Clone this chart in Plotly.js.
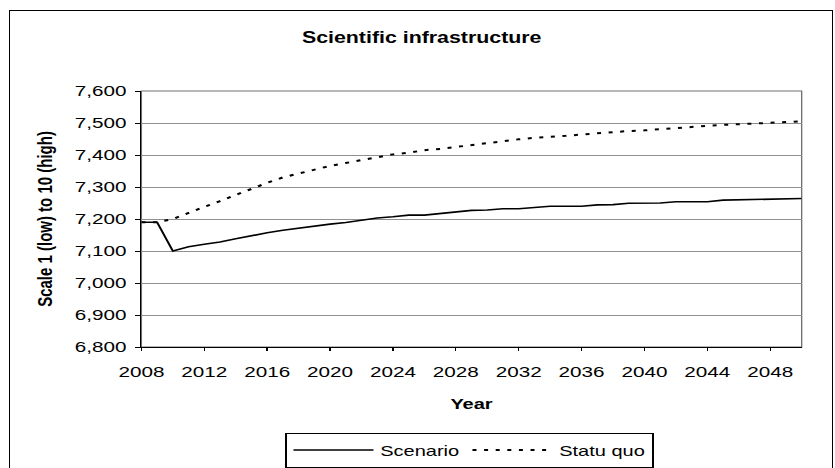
<!DOCTYPE html>
<html>
<head>
<meta charset="utf-8">
<script src="https://cdn.plot.ly/plotly-3.0.1.min.js"></script>
<style>
  html, body { margin: 0; padding: 0; background: #ffffff; overflow: hidden; }
  #wrap { position: relative; width: 835px; height: 468px; overflow: hidden; background: #fff; }
  #chart { position: absolute; left: 0; top: 0; width: 626px; height: 468px; transform: scaleX(1.3339); transform-origin: 0 0; }
  #frame { position: absolute; left: 9px; top: 10px; width: 822px; height: 480px; border: 1px solid #000; pointer-events: none; }
</style>
</head>
<body>
<div id="wrap">
  <div id="chart"></div>
  <div id="frame"></div>
</div>
<script>
const years = [2008,2009,2010,2011,2012,2013,2014,2015,2016,2017,2018,2019,2020,2021,2022,2023,2024,2025,2026,2027,2028,2029,2030,2031,2032,2033,2034,2035,2036,2037,2038,2039,2040,2041,2042,2043,2044,2045,2046,2047,2048,2049,2050];
const scenario = [7190,7190,7100,7113,7121,7128,7138,7148,7157,7165,7172,7179,7184,7189,7197,7203,7207,7212,7212,7217,7222,7227,7228,7232,7232,7236,7240,7240,7240,7244,7245,7249,7249,7250,7254,7254,7254,7259,7260,7260,7263,7264,7264];
const statuQuo = [7190,7190,7200,7220,7238,7256,7275,7295,7313,7330,7342,7355,7366,7375,7384,7394,7402,7407,7415,7419,7425,7431,7439,7445,7449,7454,7456,7460,7464,7468,7472,7475,7477,7481,7484,7487,7491,7494,7496,7500,7502,7503,7505];
const seriesNames = ["Scenario", "Statu quo"];
const chartTitle = "Scientific infrastructure";
const xTitle = "Year";
const yTitle = "Scale 1 (low) to 10 (high)";

const FONT = "Liberation Sans, Arial, sans-serif";

const traces = [
  { x: years, y: scenario, name: seriesNames[0], type: "scatter", mode: "lines",
    line: { color: "#000000", width: 1.6 } },
  { x: years, y: statuQuo, name: seriesNames[1], type: "scatter", mode: "lines",
    line: { color: "#000000", width: 2, dash: "3px,5.7px" } }
];

const layout = {
  width: 626, height: 468,
  margin: { l: 106, r: 25, t: 91, b: 121, autoexpand: false },
  paper_bgcolor: "#ffffff", plot_bgcolor: "#ffffff",
  font: { family: FONT, size: 15, color: "#000000" },
  showlegend: true,
  title: { text: "<b>" + chartTitle + "</b>", font: { family: FONT, size: 16, color: "#000" },
           x: 0.505, xref: "container", xanchor: "center", y: 1 - 37/468, yref: "container", yanchor: "middle" },
  xaxis: {
    range: [2008, 2050], tick0: 2008, dtick: 4, tickmode: "linear", automargin: false,
    showgrid: false, zeroline: false,
    showline: true, linecolor: "#000", linewidth: 1,
    ticks: "outside", ticklen: 3, tickcolor: "#000", tickwidth: 1,
    ticklabelstandoff: 7,
    tickfont: { family: FONT, size: 15.5, color: "#000" },
    title: { text: "<b>" + xTitle + "</b>", font: { family: FONT, size: 15, color: "#000" }, standoff: 19 }
  },
  yaxis: {
    range: [6800, 7600], tick0: 6800, dtick: 100, tickmode: "linear", tickformat: ",d", automargin: false,
    showgrid: true, gridcolor: "#909090", gridwidth: 1, zeroline: false,
    showline: true, linecolor: "#000", linewidth: 1,
    ticks: "outside", ticklen: 4, tickcolor: "#000", tickwidth: 1,
    ticklabelstandoff: 3,
    tickfont: { family: FONT, size: 15.5, color: "#000" },
    title: { text: "<b>" + yTitle + "</b>", font: { family: FONT, size: 15, color: "#000" }, standoff: 12 }
  },
  shapes: [
    { type: "rect", xref: "paper", yref: "paper", x0: 0, x1: 1, y0: 0, y1: 1,
      line: { color: "#707070", width: 1 }, layer: "below" }
  ],
  legend: {
    orientation: "h", x: 0.497, xanchor: "center", y: -0.335, yanchor: "top",
    bordercolor: "#000", borderwidth: 1, bgcolor: "#fff",
    font: { family: FONT, size: 15, color: "#000" },
    itemwidth: 60, tracegroupgap: 0
  }
};

Plotly.newPlot("chart", traces, layout, { displayModeBar: false, staticPlot: true });
</script>
</body>
</html>
